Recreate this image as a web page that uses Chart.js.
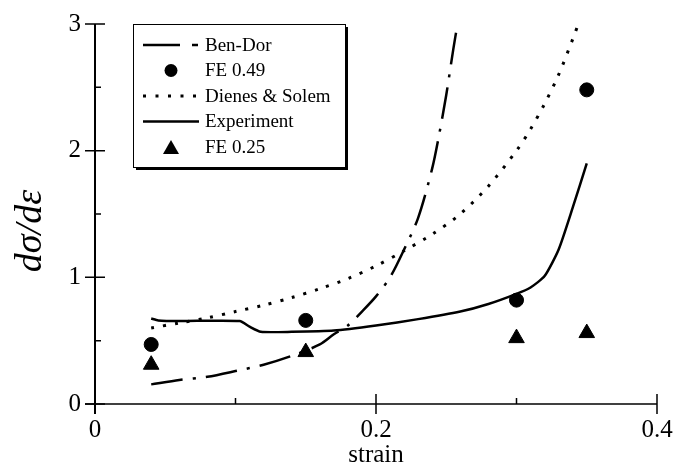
<!DOCTYPE html>
<html>
<head>
<meta charset="utf-8">
<script src="https://cdn.jsdelivr.net/npm/chart.js@4/dist/chart.umd.min.js"></script>
<style>
  body { margin: 0; background: #fff; }
  #wrap { width: 676px; height: 470px; }
</style>
</head>
<body>
<div id="wrap"><canvas id="strainChart" width="676" height="470"></canvas></div>
<script>
// data
const benDorX = [0.04, 0.06, 0.08, 0.10, 0.12, 0.14, 0.16, 0.17, 0.18, 0.19, 0.20, 0.21, 0.22, 0.23, 0.24, 0.245, 0.25, 0.255, 0.258];
const benDorY = [0.155, 0.19, 0.215, 0.26, 0.31, 0.38, 0.47, 0.55, 0.62, 0.73, 0.85, 1.0, 1.22, 1.47, 1.86, 2.13, 2.44, 2.80, 3.0];

const dienesX = [0.04, 0.06, 0.08, 0.10, 0.12, 0.14, 0.16, 0.18, 0.20, 0.22, 0.24, 0.26, 0.28, 0.30, 0.31, 0.32, 0.33, 0.34, 0.344];
const dienesY = [0.60, 0.64, 0.68, 0.73, 0.78, 0.84, 0.91, 0.99, 1.09, 1.21, 1.34, 1.50, 1.72, 2.00, 2.17, 2.37, 2.60, 2.88, 3.0];

const expX = [0.04, 0.045, 0.06, 0.103, 0.11, 0.118, 0.14, 0.17, 0.20, 0.23, 0.26, 0.28, 0.30, 0.31, 0.32, 0.33, 0.34, 0.35];
const expY = [0.675, 0.66, 0.655, 0.655, 0.61, 0.57, 0.57, 0.58, 0.62, 0.67, 0.73, 0.79, 0.87, 0.92, 1.01, 1.22, 1.55, 1.90];

const feX = [0.04, 0.15, 0.30, 0.35];
const fe49 = [0.47, 0.66, 0.82, 2.48];
const fe25 = [0.31, 0.41, 0.52, 0.56];

const xMajor = [0, 0.2, 0.4];
const xMinor = [0.1, 0.3];
const yMajor = [0, 1, 2, 3];
const yMinor = [0.5, 1.5, 2.5];
const yTitle = 'dσ/dε';

const serif = "'Liberation Serif', 'DejaVu Serif', serif";
const pts = (xs, ys) => xs.map((x, i) => ({ x: x, y: ys[i] }));

// axes with ticks crossing the line, as in the original
const axesPlugin = {
  id: 'axesPlugin',
  afterDraw(chart) {
    const ctx = chart.ctx;
    const xs = chart.scales.x, ys = chart.scales.y;
    const x0 = xs.getPixelForValue(0), y0 = ys.getPixelForValue(0);
    const xEnd = xs.getPixelForValue(0.4), yTop = ys.getPixelForValue(3);
    ctx.save();
    ctx.strokeStyle = '#000';
    ctx.lineWidth = 1.5;
    ctx.beginPath();
    ctx.moveTo(x0 - 10, y0); ctx.lineTo(xEnd, y0);
    ctx.stroke();
    ctx.lineWidth = 2;
    ctx.beginPath();
    ctx.moveTo(x0, yTop); ctx.lineTo(x0, y0 + 10);
    ctx.stroke();
    ctx.lineWidth = 1.5;
    ctx.beginPath();
    yMajor.forEach(v => { const p = ys.getPixelForValue(v); ctx.moveTo(x0 - 10, p); ctx.lineTo(x0 + 10, p); });
    yMinor.forEach(v => { const p = ys.getPixelForValue(v); ctx.moveTo(x0, p); ctx.lineTo(x0 + 6, p); });
    xMajor.forEach(v => { const p = xs.getPixelForValue(v); ctx.moveTo(p, y0 - 10); ctx.lineTo(p, y0 + 10); });
    xMinor.forEach(v => { const p = xs.getPixelForValue(v); ctx.moveTo(p, y0); ctx.lineTo(p, y0 - 6); });
    ctx.stroke();

    // rotated y title, sits a bit below the middle in the original
    ctx.translate(31, 231);
    ctx.rotate(-Math.PI / 2);
    ctx.font = 'italic 38px ' + serif;
    ctx.fillStyle = '#000';
    ctx.textAlign = 'center';
    ctx.textBaseline = 'middle';
    ctx.fillText(yTitle, 0, 0);
    ctx.restore();
  }
};

// boxed legend with a drop shadow
const boxLegend = {
  id: 'boxLegend',
  afterDraw(chart) {
    const ctx = chart.ctx;
    const bx = 133, by = 24, bw = 212, bh = 143;
    ctx.save();
    ctx.fillStyle = '#000';
    ctx.fillRect(bx + 3, by + 3, bw, bh);
    ctx.fillStyle = '#fff';
    ctx.fillRect(bx, by, bw, bh);
    ctx.strokeStyle = '#000';
    ctx.lineWidth = 1;
    ctx.strokeRect(bx + 0.5, by + 0.5, bw, bh);

    const rows = [45, 70.5, 96, 121.5, 147];
    ctx.font = '19px ' + serif;
    ctx.textBaseline = 'middle';
    chart.data.datasets.forEach((ds, i) => {
      const y = rows[i];
      ctx.fillStyle = '#000';
      ctx.strokeStyle = '#000';
      if (ds.showLine) {
        ctx.lineWidth = ds.borderWidth;
        ctx.setLineDash(ds.legendDash || []);
        ctx.beginPath();
        ctx.moveTo(143, y); ctx.lineTo(199, y);
        ctx.stroke();
        ctx.setLineDash([]);
      } else if (ds.pointStyle === 'triangle') {
        ctx.beginPath();
        ctx.moveTo(171, y - 7); ctx.lineTo(179, y + 7); ctx.lineTo(163, y + 7);
        ctx.closePath(); ctx.fill();
      } else {
        ctx.beginPath();
        ctx.arc(171, y, 6.5, 0, Math.PI * 2);
        ctx.fill();
      }
      ctx.fillText(ds.label, 205, y + 1);
    });
    ctx.restore();
  }
};

new Chart(document.getElementById('strainChart'), {
  type: 'scatter',
  data: {
    datasets: [{
      label: 'Ben-Dor',
      data: pts(benDorX, benDorY),
      showLine: true,
      borderColor: '#000',
      borderWidth: 2.5,
      borderDash: [32, 10, 3, 10],
      legendDash: [37, 12, 6, 100],
      pointRadius: 0,
      tension: 0.3
    }, {
      label: 'FE 0.49',
      data: pts(feX, fe49),
      pointStyle: 'circle',
      pointRadius: 7,
      backgroundColor: '#000',
      borderColor: '#000'
    }, {
      label: 'Dienes & Solem',
      data: pts(dienesX, dienesY),
      showLine: true,
      borderColor: '#000',
      borderWidth: 3,
      borderDash: [3, 9],
      legendDash: [3, 9.5],
      pointRadius: 0,
      tension: 0.3
    }, {
      label: 'Experiment',
      data: pts(expX, expY),
      showLine: true,
      borderColor: '#000',
      borderWidth: 2.5,
      pointRadius: 0,
      tension: 0.2
    }, {
      label: 'FE 0.25',
      data: pts(feX, fe25),
      pointStyle: 'triangle',
      pointRadius: 9,
      backgroundColor: '#000',
      borderColor: '#000'
    }]
  },
  options: {
    responsive: false,
    animation: false,
    layout: { padding: { top: 24, right: 19, left: 0, bottom: 0 } },
    plugins: { legend: { display: false }, tooltip: { enabled: false } },
    scales: {
      x: {
        type: 'linear', min: 0, max: 0.4,
        afterFit: s => { s.height = 66; s.paddingLeft = 0; s.paddingRight = 0; },
        grid: { display: false, drawTicks: false },
        border: { display: false },
        ticks: {
          stepSize: 0.1, padding: 11, color: '#000', maxRotation: 0,
          font: { family: serif, size: 25 },
          callback: v => (Math.round(v * 10) % 2 === 0 ? String(Math.round(v * 10) / 10) : '')
        },
        title: { display: true, text: 'strain', color: '#000', font: { family: serif, size: 25 }, padding: { top: 0, bottom: 0 } }
      },
      y: {
        type: 'linear', min: 0, max: 3,
        afterFit: s => { s.width = 95; s.paddingTop = 0; s.paddingBottom = 0; },
        grid: { display: false, drawTicks: false },
        border: { display: false },
        ticks: { stepSize: 1, padding: 14, color: '#000', font: { family: serif, size: 25 } },
        title: { display: false }
      }
    }
  },
  plugins: [axesPlugin, boxLegend]
});
</script>
</body>
</html>
